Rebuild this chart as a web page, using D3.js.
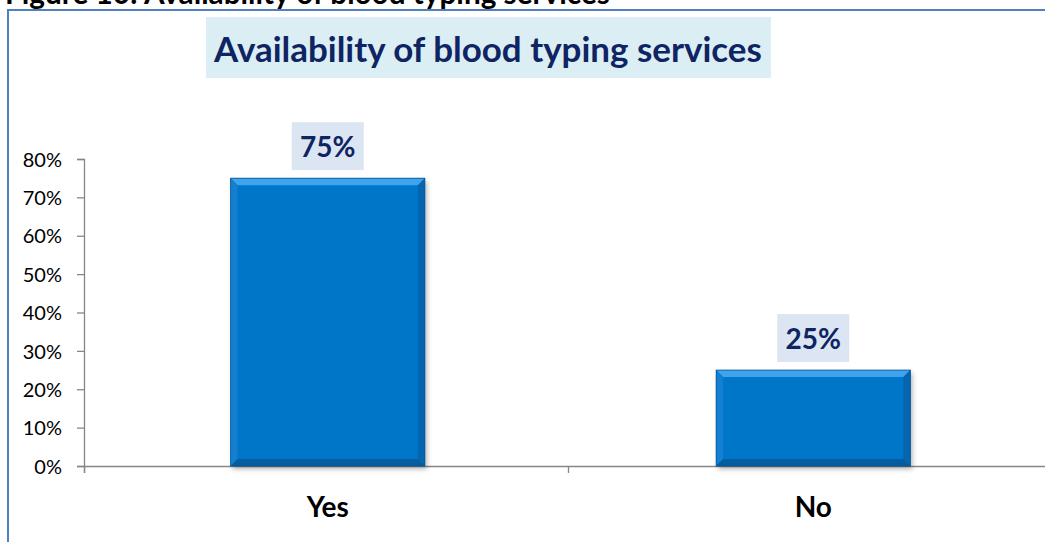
<!DOCTYPE html>
<html><head><meta charset="utf-8">
<script src="https://cdn.jsdelivr.net/npm/d3@7"></script>
<style>
html,body{margin:0;padding:0;background:#fff;}
svg{display:block;}
</style></head>
<body>
<svg id="chart" width="1045" height="542"></svg>
<script>
const caption = "Figure 10: Availability of blood typing services";
const title = "Availability of blood typing services";
const categories = ["Yes", "No"];
const values = [0.75, 0.25];
const yTicks = [0, 0.1, 0.2, 0.3, 0.4, 0.5, 0.6, 0.7, 0.8];

const svg = d3.select("#chart");
const FONT = "Lato, 'Open Sans', sans-serif";

function fit(sel, size, width) {
  const w = sel.node().getComputedTextLength();
  sel.attr("font-size", size * width / w);
}

// caption (cut at top, as in the reference)
const cap = svg.append("text").attr("x", 5).attr("y", 4)
  .attr("font-family", FONT).attr("font-weight", "bold").attr("font-size", 26)
  .attr("fill", "#000").text(caption);
fit(cap, 26, 605);

// chart border
svg.append("rect").attr("x", 8).attr("y", 10).attr("width", 1060).attr("height", 560)
  .attr("fill", "#fff").attr("stroke", "#4F81BD").attr("stroke-width", 2);

// title box
svg.append("rect").attr("x", 206).attr("y", 17).attr("width", 565).attr("height", 61).attr("fill", "#DBEEF4");
const tt = svg.append("text").attr("x", 488).attr("y", 62).attr("text-anchor", "middle")
  .attr("font-family", FONT).attr("font-weight", "bold").attr("font-size", 30)
  .attr("fill", "#0F2462").text(title);
fit(tt, 30, 548);

const x = d3.scaleBand().domain(categories).range([85, 1056]).paddingInner(0.6).paddingOuter(0.3);
const y = d3.scaleLinear().domain([0, 0.8]).range([466, 159]);

// defs
const defs = svg.append("defs");
const f = defs.append("filter").attr("id", "sh").attr("x", "-10%").attr("y", "-10%").attr("width", "130%").attr("height", "130%");
f.append("feDropShadow").attr("dx", 2).attr("dy", 3).attr("stdDeviation", 2.5).attr("flood-color", "#000").attr("flood-opacity", 0.3);

// y axis
const yAxis = d3.axisLeft(y).tickValues(yTicks).tickSize(7).tickFormat(d3.format(".0%"));
const gy = svg.append("g").attr("transform", "translate(84,0)").call(yAxis);
gy.select(".domain").attr("stroke", "#868686").attr("stroke-width", 1.3);
gy.selectAll(".tick line").attr("stroke", "#868686").attr("stroke-width", 1.3);
gy.selectAll(".tick text").attr("x", -22).attr("font-family", FONT).attr("font-size", 20).attr("fill", "#000").attr("dy", "0.36em");

// x axis
const xLine = d3.scaleLinear().domain([0, 2]).range([84, 1052]);
const gx = svg.append("g").attr("transform", "translate(0,466)")
  .call(d3.axisBottom(xLine).tickValues([0, 1, 2]).tickSize(7).tickFormat(""));
gx.select(".domain").attr("stroke", "#868686").attr("stroke-width", 1.3);
gx.selectAll(".tick line").attr("stroke", "#868686").attr("stroke-width", 1.3);

// x labels
svg.append("g").selectAll("text").data(categories).join("text")
  .attr("x", d => x(d) + x.bandwidth() / 2).attr("y", 517)
  .attr("text-anchor", "middle").attr("font-family", FONT).attr("font-weight", "bold").attr("font-size", 28)
  .attr("fill", "#000").text(d => d);

// bars with bevel
const data = categories.map((c, i) => ({ c, v: values[i] }));
const bars = svg.append("g").selectAll("g").data(data).join("g");
bars.append("rect").attr("x", d => x(d.c)).attr("y", d => y(d.v))
  .attr("width", x.bandwidth()).attr("height", d => y(0) - y(d.v))
  .attr("fill", "#0676C9").attr("filter", "url(#sh)");
const b = 7;
function poly(d, side) {
  const x0 = x(d.c), x1 = x0 + x.bandwidth(), y0 = y(d.v), y1 = y(0);
  if (side === "top") return [[x0, y0], [x1, y0], [x1 - b, y0 + b], [x0 + b, y0 + b]];
  if (side === "bottom") return [[x0, y1], [x1, y1], [x1 - b, y1 - b], [x0 + b, y1 - b]];
  if (side === "left") return [[x0, y0], [x0 + b, y0 + b], [x0 + b, y1 - b], [x0, y1]];
  return [[x1, y0], [x1 - b, y0 + b], [x1 - b, y1 - b], [x1, y1]];
}
const bevel = { top: "#3FA3EE", left: "#137FD1", right: "#0566AF", bottom: "#055CA0" };
Object.keys(bevel).forEach(s => {
  bars.append("polygon").attr("points", d => poly(d, s).map(p => p.join(",")).join(" ")).attr("fill", bevel[s]);
});
bars.append("rect").attr("x", d => x(d.c)).attr("y", d => y(d.v))
  .attr("width", x.bandwidth()).attr("height", d => y(0) - y(d.v))
  .attr("fill", "none").attr("stroke", "#045392").attr("stroke-width", 0.8);

// data labels
const lab = svg.append("g").selectAll("g").data(data).join("g");
lab.append("rect").attr("x", d => x(d.c) + x.bandwidth() / 2 - 36).attr("y", d => y(d.v) - 56)
  .attr("width", 72).attr("height", 48).attr("fill", "#DCE6F2");
lab.append("text").attr("x", d => x(d.c) + x.bandwidth() / 2).attr("y", d => y(d.v) - 21)
  .attr("text-anchor", "middle").attr("font-family", FONT).attr("font-weight", "bold").attr("font-size", 28)
  .attr("fill", "#0F2462").text(d => d3.format(".0%")(d.v));
</script>
</body></html>
